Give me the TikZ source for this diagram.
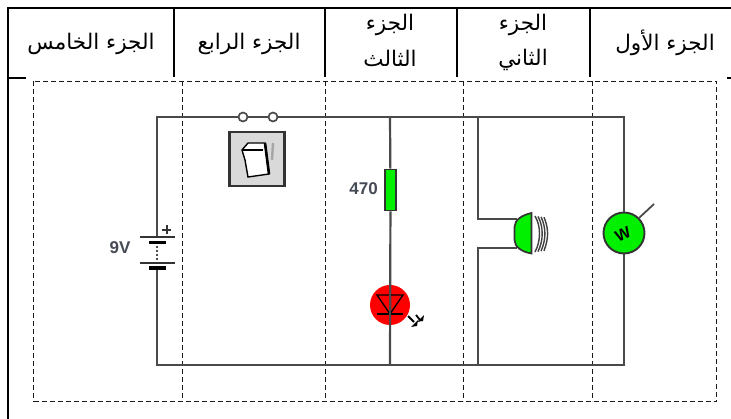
\documentclass[tikz,border=0pt]{standalone}
\usepackage{fontspec}
\setmainfont{Liberation Sans}
\newfontfamily\arabicfont[Script=Arabic]{DejaVu Sans}
\TeXXeTstate=1
\usetikzlibrary{calc}
\definecolor{wire}{HTML}{4A4A4A}
\definecolor{lbl}{HTML}{454A55}
\definecolor{lampgreen}{HTML}{00F000}
\tikzset{
  frameline/.style={black,line width=2pt},
  divline/.style={black!90,line width=1.3pt,dash pattern=on 5pt off 3pt},
  wireline/.style={wire,line width=2.2pt},
  head/.style={font=\arabicfont\fontsize{21.5}{24}\selectfont,inner sep=0pt,align=center,text=black},
  terminal/.style={circle,draw=wire,line width=1.7pt,fill=white,minimum size=9pt,inner sep=0pt},
  plate/.style={black!80,line width=2pt},
  smallplate/.style={black,line width=3.4pt},
  tag/.style={font=\bfseries\fontsize{17}{18}\selectfont,text=lbl,inner sep=0pt},
}
\begin{document}
\begin{tikzpicture}[x=1pt,y=-1pt]
\useasboundingbox (0,0) rectangle (731,419);
\fill[white] (0,0) rectangle (731,419);
% table frame
\draw[frameline] (731,8) -- (8,8) -- (8,419);
\draw[frameline] (8,78) -- (26,78);
\draw[frameline] (727,78) -- (731,78);
\foreach \x in {174,325,457,590} \draw[frameline] (\x,8) -- (\x,77);
% headers
\node[head] (h5) at (91,44) {\beginR الجزء الخامس\endR};
\node[head] (h4) at (249,44) {\beginR الجزء الرابع\endR};
\node[head] (h3a) at (390,25) {\beginR الجزء\endR};
\node[head] (h3b) at (390,58) {\beginR الثالث\endR};
\node[head] (h2a) at (523,25) {\beginR الجزء\endR};
\node[head] (h2b) at (523,60) {\beginR الثاني\endR};
\node[head] (h1) at (665,43) {\beginR الجزء الأول\endR};
% dashed regions
\draw[divline] (33.5,81.5) rectangle (716.5,401.5);
\foreach \x in {182.5,325.5,463.5,592.5} \draw[divline] (\x,81.5) -- (\x,401.5);
% anchors
\coordinate (tl) at (157,117);
\coordinate (tr) at (624,117);
\coordinate (bl) at (157,365);
\coordinate (br) at (624,365);
\coordinate (t3) at (390,117);
\coordinate (b3) at (390,365);
\coordinate (t2) at (478,117);
\coordinate (b2) at (478,365);
\coordinate (batTop) at (157,237);
\coordinate (batBot) at (157,268);
% nodes
\node[terminal] (sw1) at (243,117) {};
\node[terminal] (sw2) at (273,117) {};
\node[draw=black!80,fill=black!15,line width=2.2pt,minimum width=55pt,minimum height=54pt,inner sep=0pt] (swbox) at (257,159) {};
\node[draw=black!80,fill=lampgreen,line width=1.8pt,minimum width=11pt,minimum height=41pt,inner sep=0pt] (res) at (390.5,190) {};
\node[tag,anchor=east] (r470) at (378,189) {470};
\node[circle,fill=red,minimum size=40pt,inner sep=0pt] (led) at (390,305) {};
\node[circle,draw=black!80,fill=lampgreen,line width=1.9pt,minimum size=41pt,inner sep=0pt] (meter) at (624,233) {};
\node[tag] (v9) at (120,248) {9V};
\coordinate (spkT) at (517,219);
\coordinate (spkB) at (517,248);
% wires
\draw[wireline] (batTop) -- (tl) -- (sw1);
\draw[wireline] (sw1) -- (sw2);
\draw[wireline] (sw2) -- (tr) -- (meter);
\draw[wireline] (meter) -- (br) -- (bl) -- (batBot);
\draw[wireline] (t3) -- (res);
\draw[wireline] (res) -- (b3);
\draw[wireline] (t2) -- (spkT -| t2) -- (spkT);
\draw[wireline] (b2) -- (spkB -| b2) -- (spkB);
% battery
\draw[plate] (140,237) -- (175,237);
\draw[smallplate] (149,242.5) -- (166,242.5);
\fill[white] (150,245) rectangle (164,261);
\draw[black!70,line width=2pt,dash pattern=on 2pt off 2pt] (157,246) -- (157,260);
\draw[plate] (140,263) -- (175,263);
\draw[smallplate] (149,268) -- (166,268);
\draw[black!80,line width=2pt] (162,230) -- (171,230) (166.5,225.5) -- (166.5,234.5);
% switch icon
\draw[black,line width=1.4pt,fill=white] (242,150) -- (248,143) -- (265,143) -- (269,174) -- (248,177) -- (245,160) -- cycle;
\draw[black,line width=1.4pt] (242,150) -- (263,150);
\draw[black,line width=2.6pt] (265,143) -- (269,174);
\draw[black!35,line width=2.4pt] (273,143) -- (272,160);
% led symbol
\draw[black,line width=1.3pt] (377,295) -- (403,295) -- (390,314) -- cycle;
\draw[black,line width=1.3pt] (377,314) -- (403,314);
\draw[wire,line width=2.2pt] (390,285) -- (390,325);
\draw[black,line width=1.8pt] (408,316) -- (414,322);
\draw[black,line width=1.8pt] (416,315) -- (420,320);
\fill[black] (411,327) -- (418,320) -- (417,326) -- cycle;
\fill[black] (417,322) -- (424,315) -- (423,321) -- cycle;
% speaker
\draw[black!80,line width=1.7pt,fill=lampgreen] (531.5,213) -- (531.5,253.5) .. controls (522,252) and (514.5,247) .. (514.5,240) -- (514.5,227) .. controls (514.5,220) and (522,215) .. (531.5,213) -- cycle;
\foreach \r in {0,1,2,3}
  \draw[black!75,line width=1.4pt] ({535+\r*3},{216+\r*0.4}) .. controls ({541+\r*2.6},{226+\r}) and ({541+\r*2.6},{241-\r}) .. ({535+\r*3},{252-\r*0.4});
% meter details
\draw[wire,line width=1.8pt] (meter.45) -- (654,204);
\node[font=\bfseries\fontsize{16}{17}\selectfont,rotate=25,inner sep=0pt] (wlabel) at (623,234) {W};
\end{tikzpicture}
\end{document}
